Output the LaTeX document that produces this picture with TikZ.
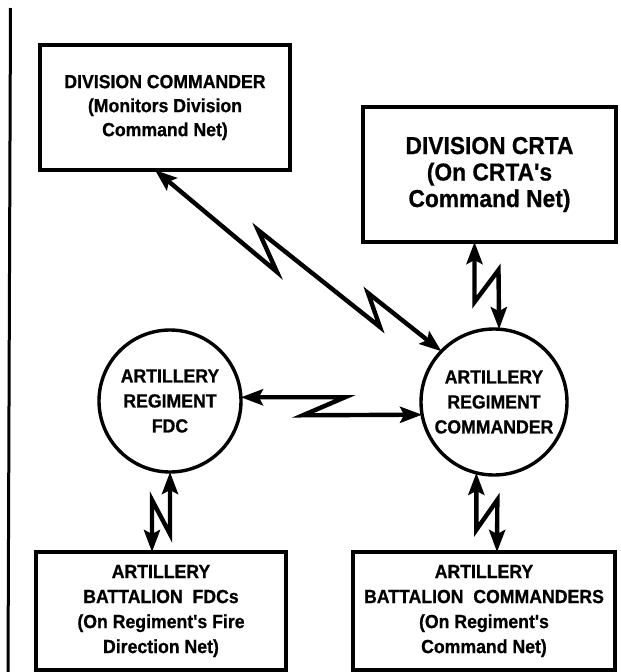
\documentclass[tikz,border=0pt]{standalone}
\usepackage{fontspec}
\setmainfont{Liberation Sans}
\newfontfamily\fbold{Liberation Sans Bold}[FakeStretch=0.93, FakeBold=0.7]
\usetikzlibrary{arrows.meta}
\tikzset{
  boxnode/.style={draw, line width=3.8pt, inner sep=0pt, outer sep=0pt, align=center},
  circnode/.style={draw, circle, line width=3.4pt, inner sep=0pt, outer sep=0pt, align=center},
  radiolink/.style={line width=4.4pt, line join=miter, miter limit=14,
     {Stealth[length=22pt,width=16pt,inset=4pt]}-{Stealth[length=22pt,width=16pt,inset=4pt]}},
  txtA/.style={font=\fbold\fontsize{19}{24}\selectfont},
  txtB/.style={font=\fbold\fontsize{24.5}{26.5}\selectfont},
  txtC/.style={font=\fbold\fontsize{19}{25}\selectfont}
}
\begin{document}
\begin{tikzpicture}[x=1pt,y=-1pt]
\useasboundingbox (0,0) rectangle (621,672);
% left margin rule
\draw[line width=3pt] (10.5,8) -- (8,672);
% nodes
\node[boxnode, txtA, minimum width=250pt, minimum height=125pt] (dc) at (165,107.5)
  {DIVISION COMMANDER\\(Monitors Division\\Command Net)};
\node[boxnode, txtB, minimum width=253pt, minimum height=135pt] (crta) at (489.5,174.5)
  {DIVISION CRTA\\(On CRTA's\\Command Net)};
\node[circnode, txtC, minimum size=142pt] (fdc) at (170,401)
  {ARTILLERY\\REGIMENT\\FDC};
\node[circnode, txtC, minimum size=146pt] (rc) at (494,402)
  {ARTILLERY\\REGIMENT\\COMMANDER};
\node[boxnode, txtC, minimum width=250pt, minimum height=118pt] (bfdc) at (161,611)
  {ARTILLERY\\BATTALION\ \ FDCs\\(On Regiment's Fire\\Direction Net)};
\node[boxnode, txtC, minimum width=262pt, minimum height=118pt] (bcmd) at (484,611)
  {ARTILLERY\\BATTALION\ \ COMMANDERS\\(On Regiment's\\Command Net)};
% radio links
\draw[radiolink] ([xshift=-10pt]dc.south) -- ++(122,102) -- ++(-19,-42) -- ++(122,97) -- ++(-12,-34) -- (rc.136);
\draw[radiolink] ([xshift=-15pt]crta.south) -- ++(0,60) -- ++(24,-32) -- (rc.86);
\draw[radiolink] (fdc.3) -- ++(104,0) -- ++(-42,18) -- (rc.190);
\draw[radiolink] (fdc.south) -- ++(0,62) -- ++(-18,-34) -- ([xshift=-9pt]bfdc.north);
\draw[radiolink] (rc.-104) -- ++(0,57) -- ++(21,-30) -- ([xshift=13pt]bcmd.north);
\end{tikzpicture}
\end{document}
